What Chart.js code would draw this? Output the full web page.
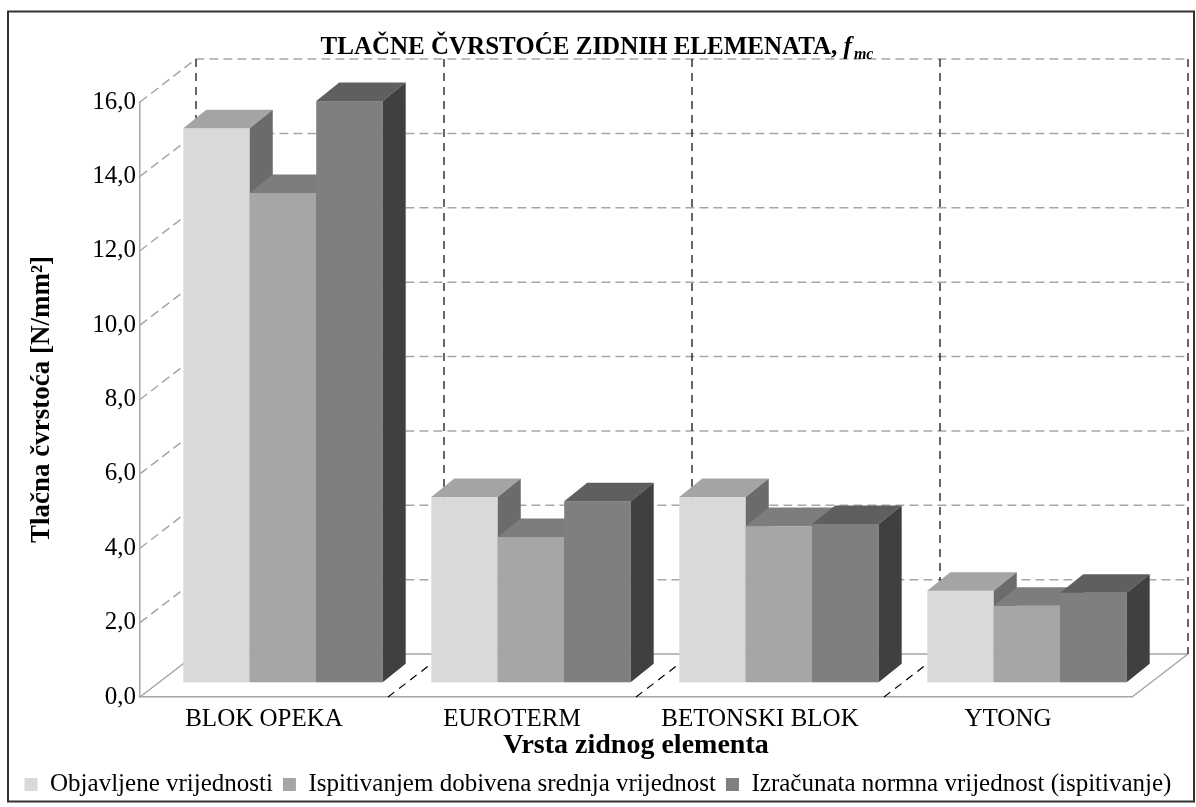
<!DOCTYPE html>
<html>
<head>
<meta charset="utf-8">
<title>Tlačne čvrstoće zidnih elemenata</title>
<script src="https://cdn.jsdelivr.net/npm/chart.js@4.4.1/dist/chart.umd.min.js"></script>
<style>
  html, body { margin: 0; padding: 0; background: #fff; }
  canvas { display: block; }
</style>
</head>
<body>
<canvas id="chart" width="1196" height="807"></canvas>
<script>
// values (N/mm2)
const categories = ["BLOK OPEKA", "EUROTERM", "BETONSKI BLOK", "YTONG"];
const objavljene = [14.90, 4.98, 4.98, 2.46];
const ispitivanjem = [13.16, 3.91, 4.20, 2.06];
const izracunata = [15.63, 4.87, 4.26, 2.41];
const seriesNames = [
    "Objavljene vrijednosti",
    "Ispitivanjem dobivena srednja vrijednost",
    "Izračunata normna vrijednost (ispitivanje)"
];
const yTickLabels = ["0,0", "2,0", "4,0", "6,0", "8,0", "10,0", "12,0", "14,0", "16,0"];

// front / top / side shades of each series
const shades = [
    ["#d9d9d9", "#a4a4a4", "#6b6b6b"],
    ["#a6a6a6", "#7d7d7d", "#5e5e5e"],
    ["#7f7f7f", "#5f5f5f", "#404040"]
];

const FONT = "Liberation Serif";
Chart.defaults.font.family = FONT;
Chart.defaults.color = "#000";

// depth of the floor / side wall and of the boxes
const WALL_DX = 56, WALL_DY = 43;
const BAR_OFF_X = 19, BAR_OFF_Y = 14.7;
const BAR_DX = 23, BAR_DY = 18.5;

function drawBox(ctx, l, r, t, b, c) {
    ctx.fillStyle = c[0];
    ctx.fillRect(l, t, r - l, b - t);
    ctx.fillStyle = c[1];
    ctx.beginPath();
    ctx.moveTo(l, t);
    ctx.lineTo(r, t);
    ctx.lineTo(r + BAR_DX, t - BAR_DY);
    ctx.lineTo(l + BAR_DX, t - BAR_DY);
    ctx.closePath();
    ctx.fill();
    ctx.fillStyle = c[2];
    ctx.beginPath();
    ctx.moveTo(r, t);
    ctx.lineTo(r + BAR_DX, t - BAR_DY);
    ctx.lineTo(r + BAR_DX, b - BAR_DY);
    ctx.lineTo(r, b);
    ctx.closePath();
    ctx.fill();
}

const threeD = {
    id: "threeD",
    beforeDraw(chart) {
        const ctx = chart.ctx;
        ctx.save();
        ctx.fillStyle = "#fff";
        ctx.fillRect(0, 0, chart.width, chart.height);
        ctx.restore();
    },
    beforeDatasetsDraw(chart) {
        const { ctx, chartArea: a, scales: { x, y } } = chart;
        const n = categories.length;

        // category borders on the front edge
        let bounds = [a.left];
        for (let k = 1; k < n; k++) {
            bounds.push((x.getPixelForValue(k - 1) + x.getPixelForValue(k)) / 2);
        }
        bounds.push(a.right);

        ctx.save();
        // back wall horizontal lines + side wall diagonals
        ctx.strokeStyle = "#a6a6a6";
        ctx.lineWidth = 1.5;
        y.ticks.forEach(t => {
            const py = y.getPixelForValue(t.value);
            ctx.setLineDash(t.value === 0 ? [] : [9, 5]);
            ctx.beginPath();
            ctx.moveTo(a.left, py);
            ctx.lineTo(a.left + WALL_DX, py - WALL_DY);
            ctx.lineTo(a.right + WALL_DX, py - WALL_DY);
            ctx.stroke();
        });
        // right edge of the floor
        ctx.setLineDash([]);
        ctx.beginPath();
        ctx.moveTo(a.right, a.bottom);
        ctx.lineTo(a.right + WALL_DX, a.bottom - WALL_DY);
        ctx.stroke();

        // vertical lines on the back wall, dividers on the floor
        ctx.strokeStyle = "#000";
        ctx.lineWidth = 1.2;
        ctx.setLineDash([8, 6]);
        bounds.forEach((bx, k) => {
            ctx.beginPath();
            ctx.moveTo(bx + WALL_DX, a.top - WALL_DY);
            ctx.lineTo(bx + WALL_DX, a.bottom - WALL_DY);
            if (k > 0 && k < n) {
                ctx.moveTo(bx, a.bottom);
                ctx.lineTo(bx + WALL_DX, a.bottom - WALL_DY);
            }
            ctx.stroke();
        });
        ctx.setLineDash([]);

        // the boxes, left to right
        for (let i = 0; i < n; i++) {
            chart.data.datasets.forEach((ds, d) => {
                const el = chart.getDatasetMeta(d).data[i];
                const p = el.getProps(["x", "y", "base", "width"], true);
                drawBox(ctx,
                    p.x - p.width / 2 + BAR_OFF_X, p.x + p.width / 2 + BAR_OFF_X,
                    p.y - BAR_OFF_Y, p.base - BAR_OFF_Y, shades[d]);
            });
        }
        ctx.restore();
        return false;
    },
    afterDraw(chart) {
        const ctx = chart.ctx;
        ctx.save();
        // frame
        ctx.strokeStyle = "#333";
        ctx.lineWidth = 2;
        ctx.strokeRect(8, 11.5, 1186, 790);

        // title with f_mc
        const main = "TLAČNE ČVRSTOĆE ZIDNIH ELEMENATA, ";
        ctx.fillStyle = "#000";
        ctx.textBaseline = "alphabetic";
        ctx.font = "bold 25px '" + FONT + "'";
        const w1 = ctx.measureText(main).width;
        ctx.font = "italic bold 25px '" + FONT + "'";
        const w2 = ctx.measureText("f").width;
        ctx.font = "italic bold 16px '" + FONT + "'";
        const w3 = ctx.measureText("mc").width;
        let x0 = 597 - (w1 + w2 + w3 + 2) / 2;
        ctx.font = "bold 25px '" + FONT + "'";
        ctx.fillText(main, x0, 54);
        ctx.font = "italic bold 25px '" + FONT + "'";
        ctx.fillText("f", x0 + w1, 54);
        ctx.font = "italic bold 16px '" + FONT + "'";
        ctx.fillText("mc", x0 + w1 + w2 + 2, 59);
        ctx.restore();
    }
};

const ctx = document.getElementById("chart").getContext("2d");
new Chart(ctx, {
    type: "bar",
    data: {
        labels: categories,
        datasets: [
            { label: seriesNames[0], data: objavljene, backgroundColor: shades[0][0] },
            { label: seriesNames[1], data: ispitivanjem, backgroundColor: shades[1][0] },
            { label: seriesNames[2], data: izracunata, backgroundColor: shades[2][0] }
        ]
    },
    options: {
        responsive: false,
        animation: false,
        categoryPercentage: 0.804,
        barPercentage: 1.0,
        layout: { padding: { top: 102, bottom: 0, left: 0, right: 0 } },
        plugins: {
            title: { display: false },
            tooltip: { enabled: false },
            legend: {
                position: "bottom",
                labels: {
                    color: "#000",
                    font: { family: FONT, size: 25 },
                    boxWidth: 13,
                    boxHeight: 13,
                    padding: 10
                }
            }
        },
        scales: {
            x: {
                ticks: { color: "#000", font: { family: FONT, size: 25 }, padding: 7, maxRotation: 0, autoSkip: false },
                grid: { display: false, drawTicks: false },
                border: { display: true, color: "#a6a6a6", width: 1.5 },
                title: {
                    display: true,
                    text: "Vrsta zidnog elementa",
                    color: "#000",
                    font: { family: FONT, size: 28, weight: "bold" },
                    padding: { top: 0, bottom: -1 }
                },
                afterFit(s) { s.height = 65; }
            },
            y: {
                min: 0,
                max: 16,
                ticks: {
                    stepSize: 2,
                    padding: 4,
                    color: "#000",
                    font: { family: FONT, size: 25 },
                    callback: (v, i) => yTickLabels[i]
                },
                grid: { display: false, drawTicks: false },
                border: { display: true, color: "#a6a6a6", width: 1.5 },
                title: {
                    display: true,
                    text: "Tlačna čvrstoća [N/mm²]",
                    color: "#000",
                    font: { family: FONT, size: 27, weight: "bold" },
                    padding: { top: 26, bottom: 0 }
                },
                afterFit(s) { s.width = 140; }
            },
            yRight: {
                position: "right",
                grid: { display: false, drawTicks: false },
                border: { display: false },
                ticks: { display: false },
                afterFit(s) { s.width = 64; }
            }
        }
    },
    plugins: [threeD]
});
</script>
</body>
</html>
